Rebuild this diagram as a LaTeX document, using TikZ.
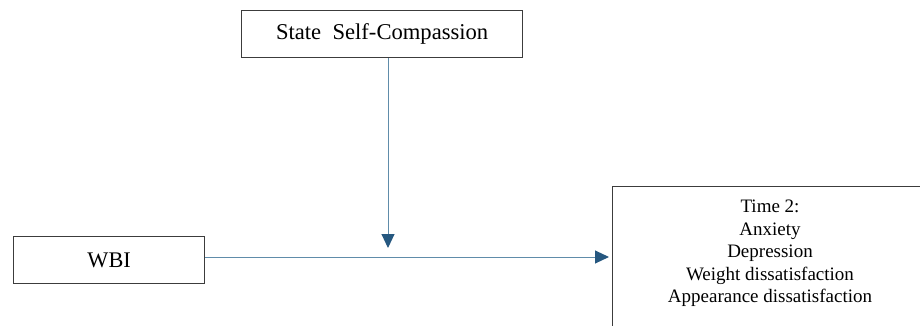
\documentclass[tikz,border=0pt]{standalone}
\usepackage{fontspec}
\setmainfont{Liberation Serif}
\usetikzlibrary{arrows.meta}
\definecolor{linec}{RGB}{96,140,170}
\definecolor{tipc}{RGB}{38,88,128}
\definecolor{boxc}{RGB}{60,60,60}
\tikzset{
  boxn/.style={draw=boxc, line width=1.3pt, fill=white, inner sep=0pt},
  arr/.style={draw=linec, line width=1pt, -{Triangle[width=13pt,length=14pt,color=tipc]}}
}
\begin{document}
\begin{tikzpicture}[x=1pt,y=-1pt]
\useasboundingbox (0,0) rectangle (920,326);
\node[boxn, minimum width=281pt, minimum height=47pt, anchor=north west, font=\fontsize{22.6}{26}\selectfont] (state) at (241,10) {State\ \ Self-Compassion};
\node[boxn, minimum width=191pt, minimum height=47pt, anchor=north west, font=\fontsize{22.3}{26}\selectfont] (wbi) at (13,236) {WBI};
\node[boxn, minimum width=314pt, minimum height=160pt, anchor=north west] (out) at (612,186) {};
\node[anchor=north, align=center, inner sep=0pt, font=\fontsize{19}{22.5}\selectfont] (outtext) at (770,200) {Time 2:\\Anxiety\\Depression\\Weight dissatisfaction\\Appearance dissatisfaction};
\coordinate (tip) at (388,248);
\coordinate (h) at (0,257);
\draw[arr] (state.south -| tip) -- (tip);
\draw[arr, shorten >=3pt] (wbi.east |- h) -- (out.west |- h);
\end{tikzpicture}
\end{document}
